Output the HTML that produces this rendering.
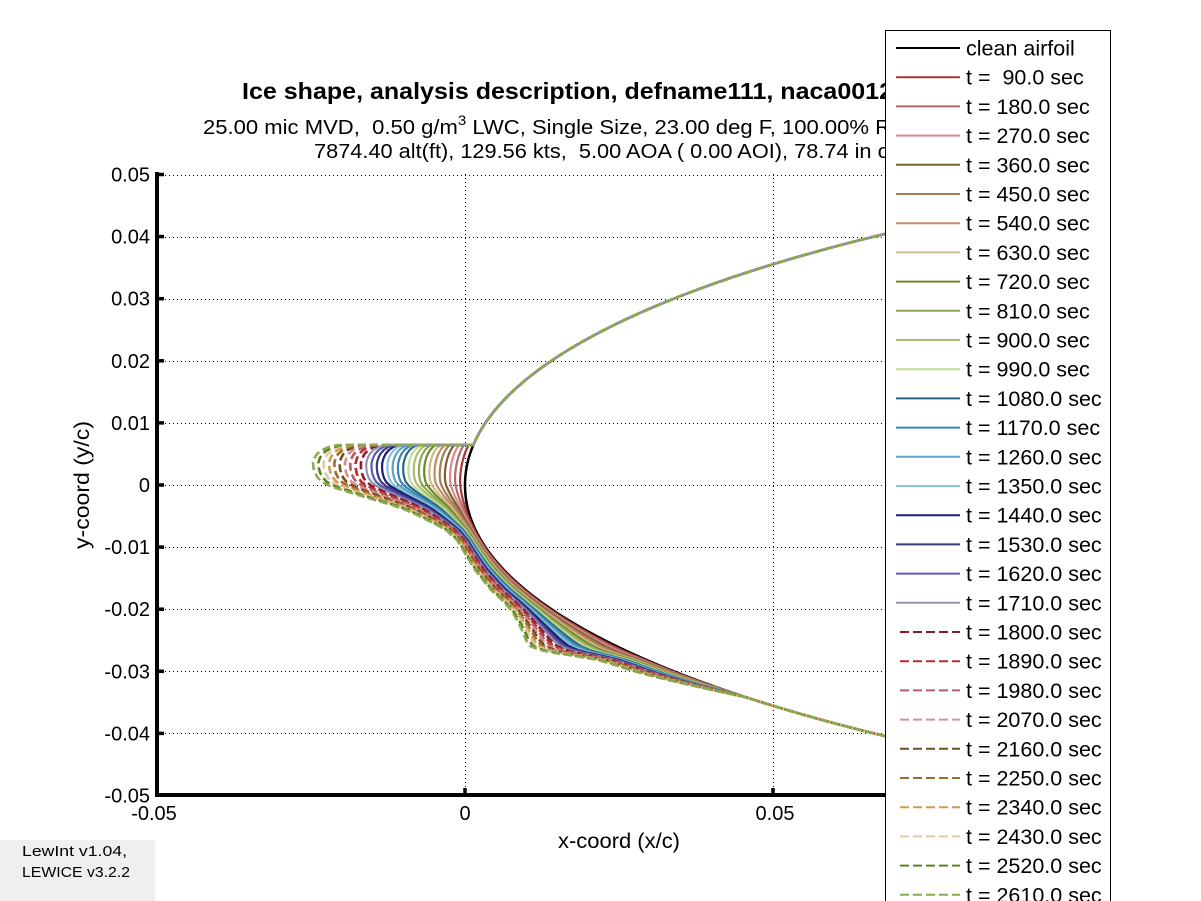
<!DOCTYPE html>
<html><head><meta charset="utf-8">
<style>html,body{margin:0;padding:0;background:#fff;overflow:hidden}svg{display:block}</style>
</head><body>
<svg id="s" width="1201" height="901" xmlns="http://www.w3.org/2000/svg" font-family="'Liberation Sans', Arial, sans-serif">
<rect width="1201" height="901" fill="#fff"/>
<defs><clipPath id="cp"><rect x="157" y="172" width="924" height="623"/></clipPath></defs>
<g id="grid" stroke="#000" stroke-width="1" stroke-dasharray="1 3" fill="none"></g>
<g id="curves" clip-path="url(#cp)" fill="none" stroke-linejoin="round" stroke-linecap="butt"></g>
<g id="axes" stroke="#000" fill="none"></g>
<g id="ticklabels" font-size="20" fill="#000"></g>

<text x="242" y="99" font-size="23.5" font-weight="bold" textLength="651" lengthAdjust="spacingAndGlyphs">Ice shape, analysis description, defname111, naca0012</text>
<text x="203" y="134" font-size="20.5" textLength="704" lengthAdjust="spacingAndGlyphs" xml:space="preserve" style="white-space:pre">25.00 mic MVD,  0.50 g/m<tspan dy="-9" font-size="14">3</tspan><tspan dy="9"> LWC, Single Size, 23.00 deg F, 100.00% RH</tspan></text>
<text x="314" y="158" font-size="20.5" textLength="618" lengthAdjust="spacingAndGlyphs" xml:space="preserve" style="white-space:pre">7874.40 alt(ft), 129.56 kts,  5.00 AOA ( 0.00 AOI), 78.74 in chord</text>

<text x="619" y="848" font-size="21" text-anchor="middle" textLength="122" lengthAdjust="spacingAndGlyphs">x-coord (x/c)</text>
<text transform="translate(89,485) rotate(-90)" font-size="21" text-anchor="middle" textLength="128" lengthAdjust="spacingAndGlyphs">y-coord (y/c)</text>

<rect x="0" y="840" width="155" height="61" fill="#efefef"/>
<text x="22" y="856" font-size="15" textLength="105" lengthAdjust="spacingAndGlyphs">LewInt v1.04,</text>
<text x="22" y="877" font-size="15" textLength="108" lengthAdjust="spacingAndGlyphs">LEWICE v3.2.2</text>

<g id="legend"></g>
</svg>
<script>
(function(){
var NS='http://www.w3.org/2000/svg';
function el(tag,attrs,parent,txt){var e=document.createElementNS(NS,tag);for(var k in attrs)e.setAttribute(k,attrs[k]);if(txt!==undefined)e.textContent=txt;parent.appendChild(e);return e;}
function ht(x){return 0.6*(0.2969*Math.sqrt(x)-0.126*x-0.3516*x*x+0.2843*x*x*x-0.1015*x*x*x*x);}
function PX(x){return 465+6160*x;}
function PY(y){return 485-6210*y;}
function inv(t){var lo=0,hi=0.3;for(var i=0;i<50;i++){var m=(lo+hi)/2;if(ht(m)<t)lo=m;else hi=m;}return (lo+hi)/2;}
var XEND=0.09;
function surf(sign,x0,x1,n){var pts=[];var a=Math.sqrt(x0),b=Math.sqrt(x1);for(var i=0;i<=n;i++){var s=a+(b-a)*i/n;var x=s*s;pts.push([PX(x),PY(sign*ht(x))]);}return pts;}
function toPath(p){var d='M'+p[0][0].toFixed(2)+' '+p[0][1].toFixed(2);for(var i=1;i<p.length;i++)d+='L'+p[i][0].toFixed(2)+' '+p[i][1].toFixed(2);return d;}

// grid
var grid=document.getElementById('grid');
var yt=[0.05,0.04,0.03,0.02,0.01,0,-0.01,-0.02,-0.03,-0.04];
yt.forEach(function(v){var Y=Math.round(PY(v))+0.5;el('line',{x1:157,y1:Y,x2:1081,y2:Y},grid);});
[0,0.05].forEach(function(v){var X=Math.round(PX(v))+0.5;el('line',{x1:X,y1:174,x2:X,y2:795},grid);});

// curves
var cur=document.getElementById('curves');
var clean=surf(1,XEND,0,260).concat(surf(-1,0,XEND,260).slice(1));
el('path',{d:toPath(clean),stroke:'#000','stroke-width':2.5},cur);

var FT=[[445,338],[447,329],[450,322],[454,317],[458,314.5],[463,313],[468,313.5],[473,315],[478,318],[482,322],[486,330],[490,342],[495,358],[500,375],[505,392],[510,406],[515,417],[520,427],[525,437],[530,446],[540,457],[550,463],[560,469],[570,475],[580,483],[590,491],[600,502],[610,511],[620,517],[630,522],[640,526],[646,530],[650,540],[653,555],[656,575],[660,598],[665,615],[670,630],[675,648],[680,668],[685,690],[690,712],[697,745],[703,772],[710,798],[718,826],[725,852],[733,883]];
function fX(Y){if(Y<=FT[0][0])return FT[0][1];for(var i=1;i<FT.length;i++){if(Y<=FT[i][0]){var a=FT[i-1],b=FT[i];var t=(Y-a[0])/(b[0]-a[0]);return a[1]+t*(b[1]-a[1]);}}return FT[FT.length-1][1];}

var cols=['#a33a35','#b36a6a','#dc8a90','#7a6030','#a08058','#c88a60','#d4b890','#6b8a25','#8fa55a','#a9c070','#c2de90','#2a6585','#3a85b5','#5aa5c8','#8cc5d2','#1c1c7e','#3c3c78','#5a5ab4','#9494b2','#8c1c2c','#c0282e','#b06060','#e08c95','#6e5020','#a06a30','#d49a50','#e2caa0','#5e8020','#8aaa50'];

var xTop=inv((485-445)/6210);
var xBot=inv((733-485)/6210);
var upper=surf(1,XEND,xTop,140);
var lower=surf(-1,xBot,XEND,40);
var XC={};
for(var Y=445;Y<=733;Y++){XC[Y]=PX(inv(Math.abs(485-Y)/6210));}
for(var k=1;k<=29;k++){
  var f=k/29;
  var pts=upper.slice();
  for(var Y=445;Y<=733;Y++){
    var xc=XC[Y];var xf=Math.min(fX(Y),xc);
    pts.push([xc+f*(xf-xc),Y]);
  }
  pts=pts.concat(lower.slice(1));
  var attrs={d:toPath(pts),stroke:cols[k-1],'stroke-width':k>=20?2.6:2.2};
  if(k>=20)attrs['stroke-dasharray']='8 4';
  el('path',attrs,cur);
}

// axes
var ax=document.getElementById('axes');
el('line',{x1:157,y1:172,x2:157,y2:797,'stroke-width':4},ax);
el('line',{x1:155,y1:795,x2:1081,y2:795,'stroke-width':4},ax);
yt.forEach(function(v){var Y=PY(v);el('line',{x1:157,y1:Y,x2:164,y2:Y,'stroke-width':3.5},ax);});
[0,0.05].forEach(function(v){var X=PX(v);el('line',{x1:X,y1:795,x2:X,y2:788,'stroke-width':3.5},ax);});

// tick labels
var tl=document.getElementById('ticklabels');
var ylab=['0.05','0.04','0.03','0.02','0.01','0','-0.01','-0.02','-0.03','-0.04','-0.05'];
var yv=[0.05,0.04,0.03,0.02,0.01,0,-0.01,-0.02,-0.03,-0.04,-0.05];
for(var i=0;i<yv.length;i++){el('text',{x:150,y:PY(yv[i])+7,'text-anchor':'end'},tl,ylab[i]);}
el('text',{x:154,y:820,'text-anchor':'middle'},tl,'-0.05');
el('text',{x:465,y:820,'text-anchor':'middle'},tl,'0');
el('text',{x:775,y:820,'text-anchor':'middle'},tl,'0.05');
el('text',{x:1081,y:820,'text-anchor':'middle'},tl,'0.1');

// legend
var lg=document.getElementById('legend');
el('rect',{x:885.5,y:30.5,width:225,height:900,fill:'#fff',stroke:'#000','stroke-width':1},lg);
var labels=['clean airfoil'];
for(var k=1;k<=29;k++){var t=(k*90).toFixed(1);labels.push('t = '+(t.length<5?' ':'')+t+' sec');}
for(var i=0;i<30;i++){
  var Y=48+i*29.2;
  var c=i==0?'#000':cols[i-1];
  var a={x1:896,y1:Y,x2:960,y2:Y,stroke:c,'stroke-width':2};
  if(i>=20){a.x1=900;a['stroke-dasharray']='9 4';}
  el('line',a,lg);
  el('text',{x:966,y:Y+7.5,'font-size':21.5,'xml:space':'preserve',style:'white-space:pre'},lg,labels[i]);
}
})();
</script>
</body></html>
